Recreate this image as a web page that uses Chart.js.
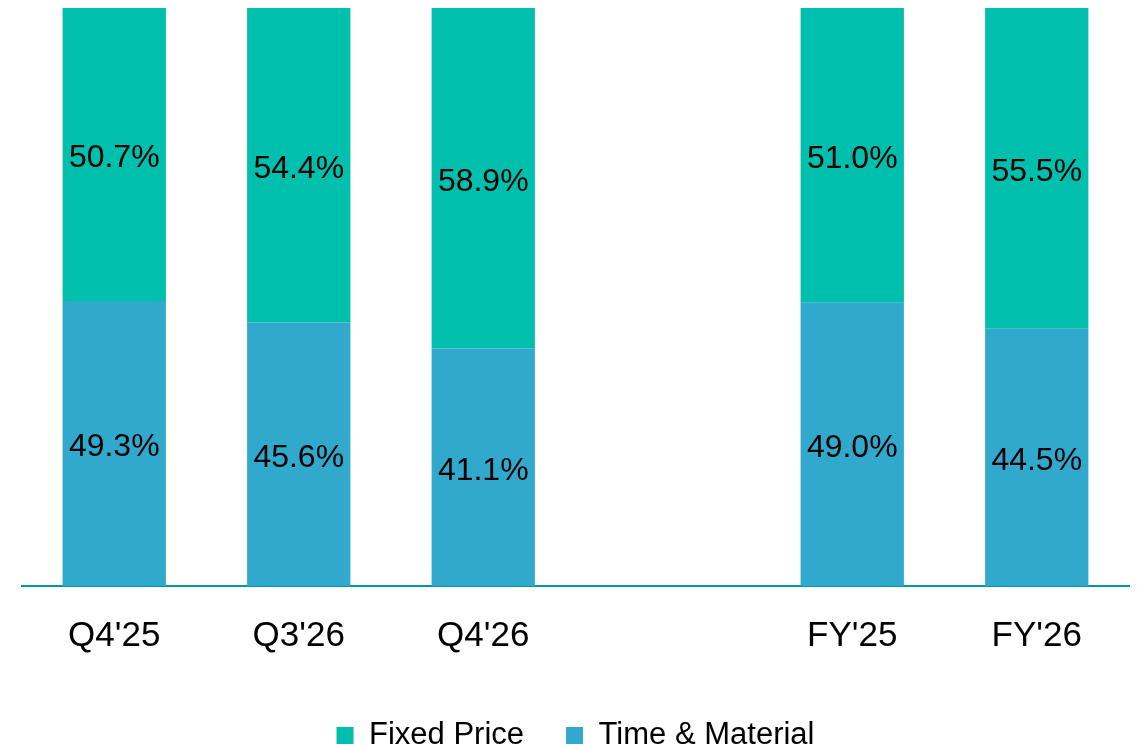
<!DOCTYPE html>
<html>
<head>
<meta charset="utf-8">
<script src="https://cdn.jsdelivr.net/npm/chart.js@4"></script>
<style>
  html, body { margin: 0; padding: 0; background: #fff; }
  #wrap { width: 1137px; height: 748px; }
</style>
</head>
<body>
<div id="wrap"><canvas id="mixChart"></canvas></div>
<script>
const categories = ["Q4'25", "Q3'26", "Q4'26", "", "FY'25", "FY'26"];
const timeMaterial = [49.3, 45.6, 41.1, null, 49.0, 44.5];
const fixedPrice = [50.7, 54.4, 58.9, null, 51.0, 55.5];

const FONT = "'Liberation Sans', Arial, sans-serif";

// draw the percentage inside each bar segment
const segmentLabels = {
  id: "segmentLabels",
  afterDatasetsDraw(chart) {
    const ctx = chart.ctx;
    ctx.save();
    ctx.font = "32px " + FONT;
    ctx.fillStyle = "#000";
    ctx.textAlign = "center";
    ctx.textBaseline = "middle";
    chart.data.datasets.forEach((ds, i) => {
      const meta = chart.getDatasetMeta(i);
      meta.data.forEach((bar, j) => {
        const v = ds.data[j];
        if (v == null) return;
        const mid = (bar.y + bar.base) / 2 + 4;
        ctx.fillText(v.toFixed(1) + "%", bar.x, mid);
      });
    });
    ctx.restore();
  }
};

new Chart(document.getElementById("mixChart"), {
  type: "bar",
  data: {
    labels: categories,
    datasets: [
      {
        label: "Time & Material",
        data: timeMaterial,
        backgroundColor: "#31A9CC",
        categoryPercentage: 1,
        barPercentage: 0.56
      },
      {
        label: "Fixed Price",
        data: fixedPrice,
        backgroundColor: "#00BFAD",
        categoryPercentage: 1,
        barPercentage: 0.56
      }
    ]
  },
  options: {
    responsive: true,
    maintainAspectRatio: false,
    animation: false,
    layout: { padding: { left: 22, right: 8, top: 8, bottom: -13 } },
    scales: {
      x: {
        stacked: true,
        grid: { display: false },
        border: { display: true, color: "#009C99", width: 2 },
        ticks: {
          color: "#000",
          font: { family: FONT, size: 35 },
          padding: 21
        }
      },
      y: {
        stacked: true,
        display: false,
        min: 0,
        max: 100
      }
    },
    plugins: {
      legend: {
        position: "bottom",
        reverse: true,
        labels: {
          color: "#000",
          boxWidth: 17,
          boxHeight: 17,
          padding: 42,
          font: { family: FONT, size: 31 }
        }
      },
      tooltip: { enabled: false }
    }
  },
  plugins: [segmentLabels]
});
</script>
</body>
</html>
